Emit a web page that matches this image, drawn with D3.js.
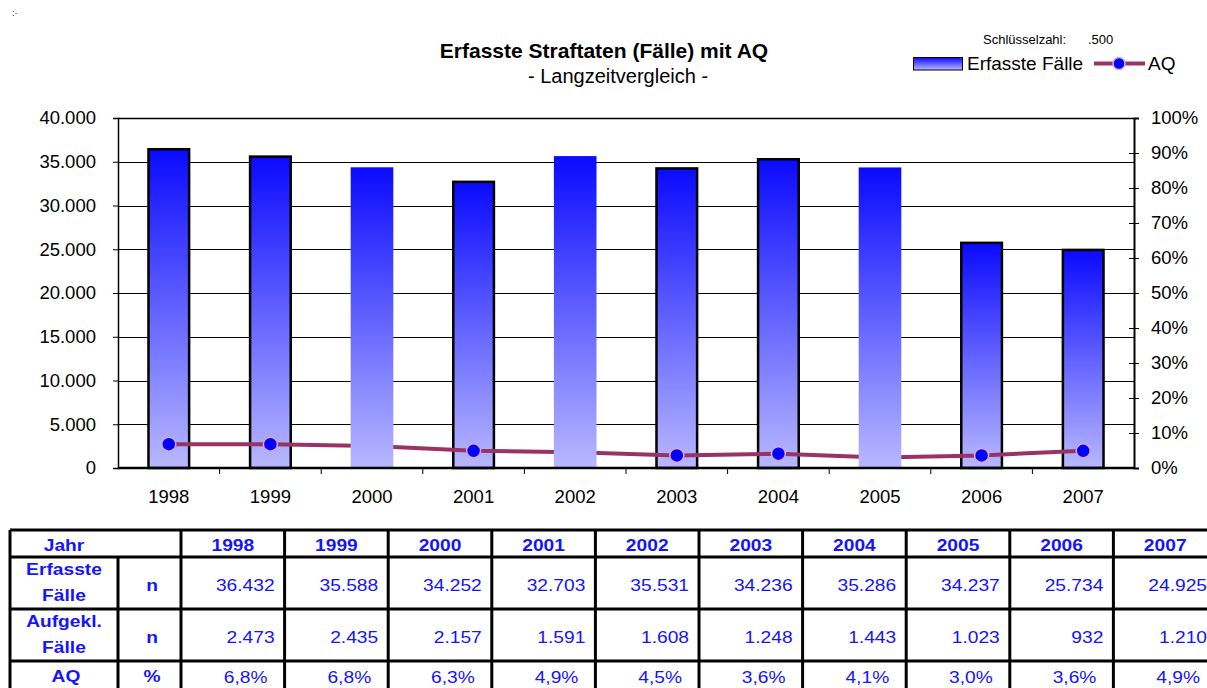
<!DOCTYPE html>
<html>
<head>
<meta charset="utf-8">
<script src="https://cdn.jsdelivr.net/npm/d3@7"></script>
<style>
body{margin:0;background:#fff;}
svg{font-family:"Liberation Sans",Arial,sans-serif;}
</style>
</head>
<body>
<svg id="chart" width="1207" height="688"></svg>
<script>
// data
var years = ["1998","1999","2000","2001","2002","2003","2004","2005","2006","2007"];
var erfasst = [36432, 35588, 34252, 32703, 35531, 34236, 35286, 34237, 25734, 24925];
var aufgeklaert = [2473, 2435, 2157, 1591, 1608, 1248, 1443, 1023, 932, 1210];
var aq = [6.8, 6.8, 6.3, 4.9, 4.5, 3.6, 4.1, 3.0, 3.6, 4.9];
var leftTicks = [0, 5000, 10000, 15000, 20000, 25000, 30000, 35000, 40000];
var rightTicks = [0, 10, 20, 30, 40, 50, 60, 70, 80, 90, 100];
// these bars sit in front of the line, without outline (as in the original)
var frontYears = ["2000", "2002", "2005"];

var de = d3.formatLocale({decimal: ",", thousands: ".", grouping: [3], currency: ["", "€"]});
var fmtN = de.format(",d");
var fmtP = function(v){ return de.format(".1f")(v) + "%"; };

var svg = d3.select("#chart");
var blue = "#1414ff";
var lblFont = "Liberation Sans, Arial, sans-serif";

var defs = svg.append("defs");
var grad = defs.append("linearGradient").attr("id", "barGrad")
	.attr("x1", 0).attr("y1", 0).attr("x2", 0).attr("y2", 1);
grad.append("stop").attr("offset", "0%").attr("stop-color", "#0a0aff");
grad.append("stop").attr("offset", "100%").attr("stop-color", "#b8b8ff");

var pLeft = 118, pRight = 1134, pTop = 118, pBottom = 468;

var x = d3.scaleBand().domain(years).range([pLeft, pRight]).paddingInner(0.6).paddingOuter(0.3);
var xBand = d3.scaleBand().domain(years).range([pLeft, pRight]);
var y = d3.scaleLinear().domain([0, 40000]).range([pBottom, pTop]);
var y2 = d3.scaleLinear().domain([0, 100]).range([pBottom, pTop]);

// tiny marks top-left
svg.append("text").attr("x", 12).attr("y", 16).attr("font-size", 9).text(":·");

// title
svg.append("text").attr("x", 604).attr("y", 58).attr("text-anchor", "middle")
	.attr("font-size", 21).attr("font-weight", "bold").text("Erfasste Straftaten (Fälle) mit AQ");
svg.append("text").attr("x", 618).attr("y", 83).attr("text-anchor", "middle")
	.attr("font-size", 20).text("- Langzeitvergleich -");

// legend
svg.append("text").attr("x", 983).attr("y", 44).attr("font-size", 13).text("Schlüsselzahl:");
svg.append("text").attr("x", 1088).attr("y", 44).attr("font-size", 13).text(".500");
svg.append("rect").attr("x", 913.5).attr("y", 57.5).attr("width", 49).attr("height", 12.5)
	.attr("fill", "url(#barGrad)").attr("stroke", "#000").attr("stroke-width", 1);
svg.append("text").attr("x", 967).attr("y", 70).attr("font-size", 19).text("Erfasste Fälle");
svg.append("line").attr("x1", 1094).attr("x2", 1145).attr("y1", 63.5).attr("y2", 63.5)
	.attr("stroke", "#993366").attr("stroke-width", 4);
svg.append("circle").attr("cx", 1119).attr("cy", 63.5).attr("r", 6)
	.attr("fill", "#0000ff").attr("stroke", "#d8a8d8").attr("stroke-width", 1.5);
svg.append("text").attr("x", 1148).attr("y", 70).attr("font-size", 19).text("AQ");

// gridlines
svg.append("g").selectAll("line").data(leftTicks.slice(1)).join("line")
	.attr("x1", pLeft).attr("x2", pRight)
	.attr("y1", function(d){ return Math.round(y(d)) + 0.5; })
	.attr("y2", function(d){ return Math.round(y(d)) + 0.5; })
	.attr("stroke", "#000").attr("stroke-width", 1);

// bars behind line
svg.append("g").selectAll("rect")
	.data(years.map(function(yr, i){ return {year: yr, v: erfasst[i]}; })
		.filter(function(d){ return frontYears.indexOf(d.year) < 0; }))
	.join("rect")
	.attr("x", function(d){ return x(d.year); })
	.attr("y", function(d){ return y(d.v); })
	.attr("width", x.bandwidth())
	.attr("height", function(d){ return pBottom - y(d.v); })
	.attr("fill", "url(#barGrad)").attr("stroke", "#000").attr("stroke-width", 2.5);

// AQ line
var pts = years.map(function(yr, i){ return {year: yr, v: aq[i]}; });
var line = d3.line()
	.x(function(d){ return xBand(d.year) + xBand.bandwidth() / 2; })
	.y(function(d){ return y2(d.v); });
svg.append("path").datum(pts).attr("d", line)
	.attr("fill", "none").attr("stroke", "#993366").attr("stroke-width", 4);
svg.append("g").selectAll("circle").data(pts).join("circle")
	.attr("cx", function(d){ return xBand(d.year) + xBand.bandwidth() / 2; })
	.attr("cy", function(d){ return y2(d.v); })
	.attr("r", 7)
	.attr("fill", "#0000ff").attr("stroke", "#d8a8d8").attr("stroke-width", 1.5);

// bars in front of line
svg.append("g").selectAll("rect")
	.data(years.map(function(yr, i){ return {year: yr, v: erfasst[i]}; })
		.filter(function(d){ return frontYears.indexOf(d.year) >= 0; }))
	.join("rect")
	.attr("x", function(d){ return x(d.year) - 1; })
	.attr("y", function(d){ return y(d.v) - 1; })
	.attr("width", x.bandwidth() + 2)
	.attr("height", function(d){ return pBottom - y(d.v) + 1; })
	.attr("fill", "url(#barGrad)");

// frame: top + axes
svg.append("line").attr("x1", pLeft).attr("x2", pRight).attr("y1", pTop + 0.5).attr("y2", pTop + 0.5)
	.attr("stroke", "#000").attr("stroke-width", 1.5);

var yAxis = d3.axisLeft(y).tickValues(leftTicks).tickSize(5).tickPadding(17)
	.tickFormat(function(d){ return fmtN(d); });
var gy = svg.append("g").attr("transform", "translate(" + pLeft + ",0)").call(yAxis);
gy.selectAll("text").attr("font-size", 18.5).attr("font-family", lblFont).attr("fill", "#000");
gy.select(".domain").attr("stroke-width", 1.5);

var y2Axis = d3.axisRight(y2).tickValues(rightTicks).tickSize(5).tickPadding(12)
	.tickFormat(function(d){ return d + "%"; });
var gy2 = svg.append("g").attr("transform", "translate(" + pRight + ",0)").call(y2Axis);
gy2.selectAll(".tick line").attr("x1", -5).attr("x2", 5);
gy2.selectAll("text").attr("font-size", 18.5).attr("font-family", lblFont).attr("fill", "#000");
gy2.select(".domain").attr("stroke-width", 2);

var gx = svg.append("g").attr("transform", "translate(0," + pBottom + ")");
gx.append("line").attr("x1", pLeft).attr("x2", pRight).attr("y1", 0).attr("y2", 0)
	.attr("stroke", "#000").attr("stroke-width", 2.5);
gx.selectAll("line.tk").data(years.slice(1)).join("line").attr("class", "tk")
	.attr("x1", function(d){ return xBand(d); }).attr("x2", function(d){ return xBand(d); })
	.attr("y1", 0).attr("y2", 6).attr("stroke", "#000");
gx.selectAll("text").data(years).join("text")
	.attr("x", function(d){ return xBand(d) + xBand.bandwidth() / 2; })
	.attr("y", 34.5).attr("text-anchor", "middle").attr("font-size", 18.5).text(function(d){ return d; });

// table
var tLeft = 10, c1 = 118, c2 = 181, colW = 103.6;
var rowY = [530, 557, 609, 661, 688];
var colX = years.map(function(d, i){ return c2 + i * colW; });
var tg = svg.append("g").attr("font-size", 17).attr("fill", blue);
var sx = 1.13; // table text is a little wider than normal

function cellText(txt, cx, cy, bold, anchor){
	return tg.append("text")
		.attr("transform", "translate(" + cx + "," + cy + ") scale(" + sx + ",1)")
		.attr("text-anchor", anchor || "middle")
		.attr("font-weight", bold ? "bold" : "normal").text(txt);
}
cellText("Jahr", 64, 551, true);
years.forEach(function(yr, i){
	cellText(yr, colX[i] + colW / 2, 551, true);
	cellText(fmtN(erfasst[i]), colX[i] + colW - 10, 591, false, "end");
	cellText(fmtN(aufgeklaert[i]), colX[i] + colW - 10, 643, false, "end");
	cellText(fmtP(aq[i]), colX[i] + colW - 17, 683, false, "end");
});
cellText("Erfasste", 64, 575, true);
cellText("Fälle", 64, 601, true);
cellText("Aufgekl.", 64, 627, true);
cellText("Fälle", 64, 653, true);
cellText("AQ", 66, 682, true);
cellText("n", 152, 591, true);
cellText("n", 152, 643, true);
cellText("%", 152, 682, true);

var lg = svg.append("g").attr("stroke", "#000").attr("stroke-width", 3);
rowY.slice(0, 4).forEach(function(ry){
	lg.append("line").attr("x1", tLeft).attr("x2", 1207).attr("y1", ry).attr("y2", ry);
});
lg.append("line").attr("x1", tLeft).attr("x2", tLeft).attr("y1", 530).attr("y2", 688);
lg.append("line").attr("x1", c1).attr("x2", c1).attr("y1", 557).attr("y2", 688);
colX.forEach(function(cx){
	lg.append("line").attr("x1", cx).attr("x2", cx).attr("y1", 530).attr("y2", 688);
});
</script>
</body>
</html>
